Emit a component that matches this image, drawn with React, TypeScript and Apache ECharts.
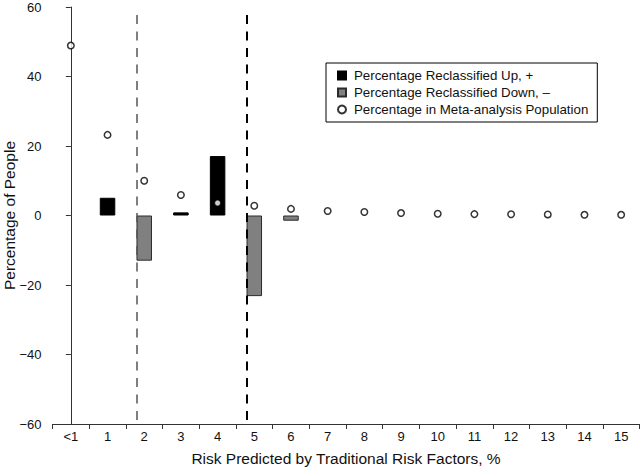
import React, { useEffect, useRef } from "react";
import * as echarts from "echarts";

const categories = ["<1", "1", "2", "3", "4", "5", "6", "7", "8", "9", "10", "11", "12", "13", "14", "15"];
const reclassifiedUp = [null, 5.1, null, 0.9, 17.1, null, null, null, null, null, null, null, null, null, null, null];
const reclassifiedDown = [null, null, -13.0, null, null, -23.2, -1.5, null, null, null, null, null, null, null, null, null];
const metaPopulation = [48.9, 23.2, 10.0, 5.9, 3.6, 2.8, 1.9, 1.3, 1.0, 0.7, 0.5, 0.4, 0.35, 0.3, 0.2, 0.2];
const thresholdPositions = [1.79, 4.79];
const yTicks = { min: -60, max: 60, interval: 20 };

const FONT = "'Liberation Sans', Arial, Helvetica, sans-serif";

export default function App() {
  const ref = useRef<HTMLDivElement>(null);
  useEffect(() => {
    document.body.style.margin = "0";
    const chart = echarts.init(ref.current!, null, { renderer: "svg" });
    const axisColor = "#333";
    chart.setOption({
      animation: false,
      textStyle: { fontFamily: FONT },
      grid: { left: 52.5, right: 0.5, top: 7, bottom: 43, containLabel: false, outerBoundsMode: "none" },
      legend: {
        orient: "vertical",
        left: 326,
        top: 63,
        padding: [6, 9, 6, 11],
        itemGap: 4,
        itemWidth: 8,
        itemHeight: 8,
        borderColor: "#000",
        borderWidth: 1,
        textStyle: { fontSize: 13.3, color: "#111", fontFamily: FONT, padding: [0, 0, 0, 3] },
        data: [
          { name: "Percentage Reclassified Up, +", icon: "rect" },
          { name: "Percentage Reclassified Down, –", icon: "rect" },
          { name: "Percentage in Meta-analysis Population", icon: "circle" },
        ],
      },
      xAxis: [
        {
          type: "category",
          data: categories,
          name: "Risk Predicted by Traditional Risk Factors, %",
          nameLocation: "middle",
          nameGap: 26,
          nameMoveOverlap: false,
          nameTextStyle: { fontSize: 15.5, color: "#111", fontFamily: FONT },
          axisLine: { onZero: false, lineStyle: { color: axisColor, width: 1 } },
          axisTick: { show: true, length: 5, lineStyle: { color: axisColor } },
          axisLabel: { fontSize: 13, color: "#111", margin: 6, interval: 0 },
          splitLine: { show: false },
        },
        {
          type: "value",
          min: -0.5,
          max: 15.5,
          show: false,
        },
      ],
      yAxis: {
        type: "value",
        min: yTicks.min,
        max: yTicks.max,
        interval: yTicks.interval,
        name: "Percentage of People",
        nameLocation: "middle",
        nameGap: 35,
        nameMoveOverlap: false,
        nameTextStyle: { fontSize: 15.5, color: "#111", fontFamily: FONT },
        axisLine: { show: true, lineStyle: { color: axisColor, width: 1 } },
        axisTick: { show: true, length: 5, lineStyle: { color: axisColor } },
        axisLabel: {
          fontSize: 13,
          color: "#111",
          margin: 11,
          formatter: (v: number) => String(v).replace("-", "\u2212"),
        },
        splitLine: { show: false },
      },
      series: [
        {
          name: "Percentage Reclassified Up, +",
          type: "bar",
          data: reclassifiedUp,
          barWidth: 15.5,
          barGap: "-100%",
          itemStyle: { color: "#000", borderColor: "#000", borderWidth: 1 },
          z: 2,
        },
        {
          name: "Percentage Reclassified Down, –",
          type: "bar",
          data: reclassifiedDown,
          barWidth: 15.5,
          barGap: "-100%",
          itemStyle: { color: "#808080", borderColor: "#2a2a2a", borderWidth: 1 },
          z: 2,
        },
        {
          name: "Percentage in Meta-analysis Population",
          type: "scatter",
          data: metaPopulation,
          symbol: "circle",
          symbolSize: 6.5,
          itemStyle: { color: "#fff", borderColor: "#000", borderWidth: 1.5 },
          z: 5,
        },
        {
          name: "thresholds",
          type: "line",
          xAxisIndex: 1,
          yAxisIndex: 0,
          data: [],
          silent: true,
          markLine: {
            silent: true,
            symbol: "none",
            label: { show: false },
            data: [
              [
                { coord: [thresholdPositions[0], 57.7], lineStyle: { color: "#555", width: 1.5, type: [9, 7.5] } },
                { coord: [thresholdPositions[0], -60] },
              ],
              [
                { coord: [thresholdPositions[1], 57.7], lineStyle: { color: "#000", width: 2, type: [9, 7.5] } },
                { coord: [thresholdPositions[1], -60] },
              ],
            ],
          },
          z: 1,
        },
      ],
    });
    return () => chart.dispose();
  }, []);
  return <div ref={ref} style={{ position: "absolute", left: 0, top: 0, width: 640, height: 467 }} />;
}
